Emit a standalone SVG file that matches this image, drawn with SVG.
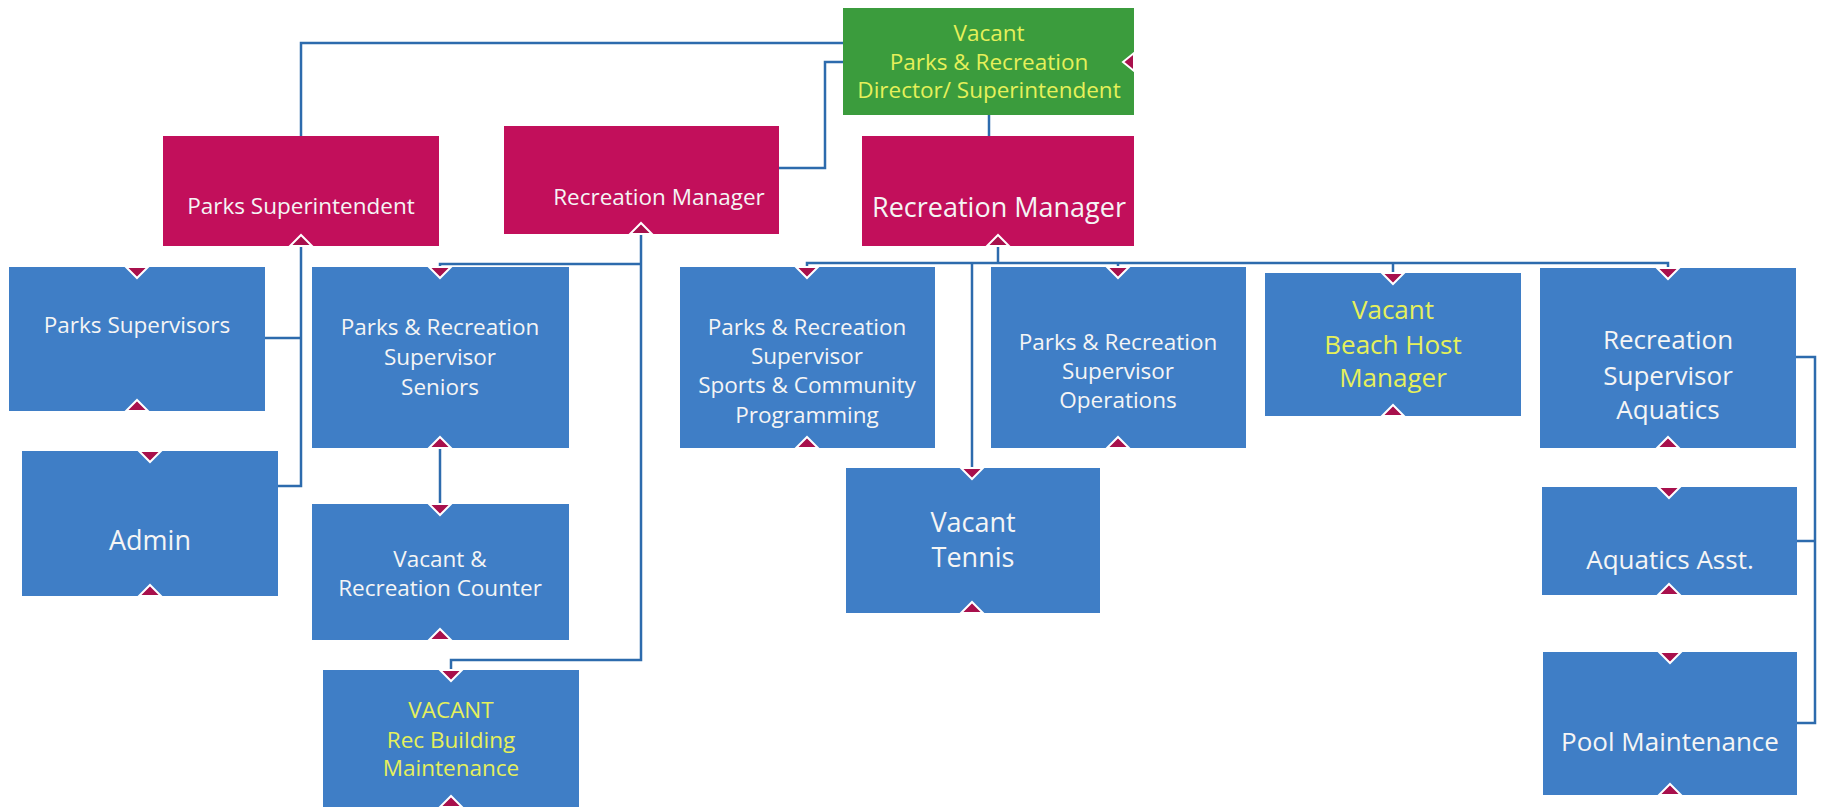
<svg xmlns="http://www.w3.org/2000/svg" xmlns:xlink="http://www.w3.org/1999/xlink" width="1826" height="807" viewBox="0 0 1826 807">
<style>
.blue{fill:#3f7ec6}
.red{fill:#c20f5b}
.green{fill:#3b9c3d}
.t{font-family:"Open Sans","Noto Sans","DejaVu Sans",sans-serif;fill:#f5f5f5;text-anchor:middle}
.y{fill:#e6f05a}
.s{font-size:22.5px}
.m{font-size:26px}
.l{font-size:27px}
.conn{fill:none;stroke:#2d6bad;stroke-width:2.5}
.nub{fill:#a8104c;stroke:#ffffff;stroke-width:2;stroke-linejoin:miter}
</style>
<defs>
<path id="nd" class="nub" d="M-11,0 L11,0 L0,11 Z"/>
<path id="nu" class="nub" d="M-11,0 L11,0 L0,-11 Z"/>
</defs>
<rect width="1826" height="807" fill="#ffffff"/>
<g id="connectors">
<path class="conn" d="M843,43 H301 V136"/>
<path class="conn" d="M843,62 H825 V168 H779"/>
<path class="conn" d="M989,115 V136"/>
<path class="conn" d="M998,246 V263"/>
<path class="conn" d="M807,267 V263 H1668 V268"/>
<path class="conn" d="M972,263 V468"/>
<path class="conn" d="M1118,263 V267"/>
<path class="conn" d="M1393,263 V273"/>
<path class="conn" d="M641,234 V660 H451 V670"/>
<path class="conn" d="M641,264 H440 V267"/>
<path class="conn" d="M301,246 V486 H278"/>
<path class="conn" d="M301,338 H265"/>
<path class="conn" d="M440,448 V504"/>
<path class="conn" d="M1796,357 H1815 V723 H1797"/>
<path class="conn" d="M1815,541 H1797"/>
</g>
<g id="director">
<rect class="green" x="843" y="8" width="291" height="107"/>
<path class="nub" d="M1134,53 L1134,71 L1123,62 Z"/>
<text class="t y s" x="989" y="41">Vacant</text>
<text class="t y s" x="989" y="70">Parks &amp; Recreation</text>
<text class="t y s" x="989" y="98">Director/ Superintendent</text>
</g>
<g id="parks-superintendent">
<rect class="red" x="163" y="136" width="276" height="110"/>
<use xlink:href="#nu" x="301" y="246"/>
<text class="t s" x="301" y="214">Parks Superintendent</text>
</g>
<g id="recreation-manager-1">
<rect class="red" x="504" y="126" width="275" height="108"/>
<use xlink:href="#nu" x="641" y="234"/>
<text class="t s" x="659" y="205">Recreation Manager</text>
</g>
<g id="recreation-manager-2">
<rect class="red" x="862" y="136" width="272" height="110"/>
<use xlink:href="#nu" x="998" y="246"/>
<text class="t l" x="999" y="217">Recreation Manager</text>
</g>
<g id="parks-supervisors">
<rect class="blue" x="9" y="267" width="256" height="144"/>
<use xlink:href="#nd" x="137" y="267"/>
<use xlink:href="#nu" x="137" y="411"/>
<text class="t s" x="137" y="333">Parks Supervisors</text>
</g>
<g id="admin">
<rect class="blue" x="22" y="451" width="256" height="145"/>
<use xlink:href="#nd" x="150" y="451"/>
<use xlink:href="#nu" x="150" y="596"/>
<text class="t l" x="150" y="550">Admin</text>
</g>
<g id="seniors">
<rect class="blue" x="312" y="267" width="257" height="181"/>
<use xlink:href="#nd" x="440" y="267"/>
<use xlink:href="#nu" x="440" y="448"/>
<text class="t s" x="440" y="335">Parks &amp; Recreation</text>
<text class="t s" x="440" y="365">Supervisor</text>
<text class="t s" x="440" y="395">Seniors</text>
</g>
<g id="counter">
<rect class="blue" x="312" y="504" width="257" height="136"/>
<use xlink:href="#nd" x="440" y="504"/>
<use xlink:href="#nu" x="440" y="640"/>
<text class="t s" x="440" y="567">Vacant &amp;</text>
<text class="t s" x="440" y="596">Recreation Counter</text>
</g>
<g id="rec-building">
<rect class="blue" x="323" y="670" width="256" height="140"/>
<use xlink:href="#nd" x="451" y="670"/>
<use xlink:href="#nu" x="451" y="807"/>
<text class="t y s" x="451" y="718">VACANT</text>
<text class="t y s" x="451" y="748">Rec Building</text>
<text class="t y s" x="451" y="776">Maintenance</text>
</g>
<g id="sports">
<rect class="blue" x="680" y="267" width="255" height="181"/>
<use xlink:href="#nd" x="807" y="267"/>
<use xlink:href="#nu" x="807" y="448"/>
<text class="t s" x="807" y="335">Parks &amp; Recreation</text>
<text class="t s" x="807" y="364">Supervisor</text>
<text class="t s" x="807" y="393">Sports &amp; Community</text>
<text class="t s" x="807" y="423">Programming</text>
</g>
<g id="operations">
<rect class="blue" x="991" y="267" width="255" height="181"/>
<use xlink:href="#nd" x="1118" y="267"/>
<use xlink:href="#nu" x="1118" y="448"/>
<text class="t s" x="1118" y="350">Parks &amp; Recreation</text>
<text class="t s" x="1118" y="379">Supervisor</text>
<text class="t s" x="1118" y="408">Operations</text>
</g>
<g id="beach">
<rect class="blue" x="1265" y="273" width="256" height="143"/>
<use xlink:href="#nd" x="1393" y="273"/>
<use xlink:href="#nu" x="1393" y="416"/>
<text class="t y m" x="1393" y="319">Vacant</text>
<text class="t y m" x="1393" y="354">Beach Host</text>
<text class="t y m" x="1393" y="387">Manager</text>
</g>
<g id="aquatics">
<rect class="blue" x="1540" y="268" width="256" height="180"/>
<use xlink:href="#nd" x="1668" y="268"/>
<use xlink:href="#nu" x="1668" y="448"/>
<text class="t m" x="1668" y="349">Recreation</text>
<text class="t m" x="1668" y="385">Supervisor</text>
<text class="t m" x="1668" y="419">Aquatics</text>
</g>
<g id="tennis">
<rect class="blue" x="846" y="468" width="254" height="145"/>
<use xlink:href="#nd" x="972" y="468"/>
<use xlink:href="#nu" x="972" y="613"/>
<text class="t l" x="973" y="532">Vacant</text>
<text class="t l" x="973" y="567">Tennis</text>
</g>
<g id="aquatics-asst">
<rect class="blue" x="1542" y="487" width="255" height="108"/>
<use xlink:href="#nd" x="1669" y="487"/>
<use xlink:href="#nu" x="1669" y="595"/>
<text class="t m" x="1670" y="569">Aquatics Asst.</text>
</g>
<g id="pool">
<rect class="blue" x="1543" y="652" width="254" height="143"/>
<use xlink:href="#nd" x="1670" y="652"/>
<use xlink:href="#nu" x="1670" y="795"/>
<text class="t m" x="1670" y="751">Pool Maintenance</text>
</g>
</svg>
